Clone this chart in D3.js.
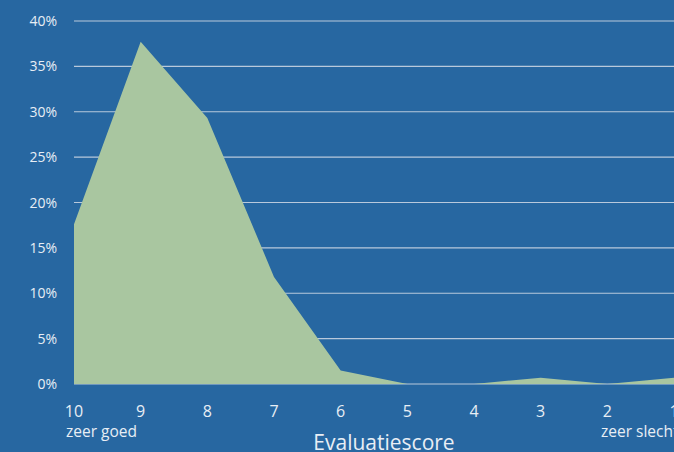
<!DOCTYPE html>
<html>
<head>
<meta charset="utf-8">
<script src="https://cdn.jsdelivr.net/npm/d3@7"></script>
<style>
  body { margin: 0; background: #2767a1; overflow: hidden; }
  text { font-family: "Open Sans", sans-serif; fill: #e8eef5; }
</style>
</head>
<body>
<div id="chart"></div>
<script>
const scores = ["10", "9", "8", "7", "6", "5", "4", "3", "2", "1"];
const shares = [17.6, 37.7, 29.3, 11.8, 1.5, 0, 0, 0.7, 0, 0.7];
const yTicks = [0, 5, 10, 15, 20, 25, 30, 35, 40];

const width = 674;
const height = 452;

const x = d3.scalePoint().domain(scores).range([74, 674]);
const y = d3.scaleLinear().domain([0, 40]).range([384, 21]);

const svg = d3
  .select("#chart")
  .append("svg")
  .attr("width", width)
  .attr("height", height);

svg
  .append("rect")
  .attr("width", width)
  .attr("height", height)
  .attr("fill", "#2767a1");

// gridlines
svg
  .append("g")
  .selectAll("line")
  .data(yTicks)
  .enter()
  .append("line")
  .attr("x1", 74)
  .attr("x2", width)
  .attr("y1", (d) => y(d))
  .attr("y2", (d) => y(d))
  .attr("stroke", "#b9c9dc")
  .attr("stroke-width", 1.2);

const area = d3
  .area()
  .x((d, i) => x(scores[i]))
  .y0(y(0))
  .y1((d) => y(d));

svg
  .append("path")
  .datum(shares)
  .attr("d", area)
  .attr("fill", "#a9c6a0");

// y labels
svg
  .append("g")
  .selectAll("text")
  .data(yTicks)
  .enter()
  .append("text")
  .attr("x", 57)
  .attr("y", (d) => y(d) + 5)
  .attr("text-anchor", "end")
  .style("font-size", "14px")
  .text((d) => d + "%");

// x labels
svg
  .append("g")
  .selectAll("text")
  .data(scores)
  .enter()
  .append("text")
  .attr("x", (d) => x(d))
  .attr("y", 417)
  .attr("text-anchor", "middle")
  .style("font-size", "16px")
  .text((d) => d);

svg
  .append("text")
  .attr("x", 66)
  .attr("y", 437)
  .style("font-size", "15.5px")
  .text("zeer goed");

svg
  .append("text")
  .attr("x", 601)
  .attr("y", 437)
  .style("font-size", "15.5px")
  .text("zeer slecht");

svg
  .append("text")
  .attr("x", 384)
  .attr("y", 450)
  .attr("text-anchor", "middle")
  .style("font-size", "21px")
  .text("Evaluatiescore");
</script>
</body>
</html>
